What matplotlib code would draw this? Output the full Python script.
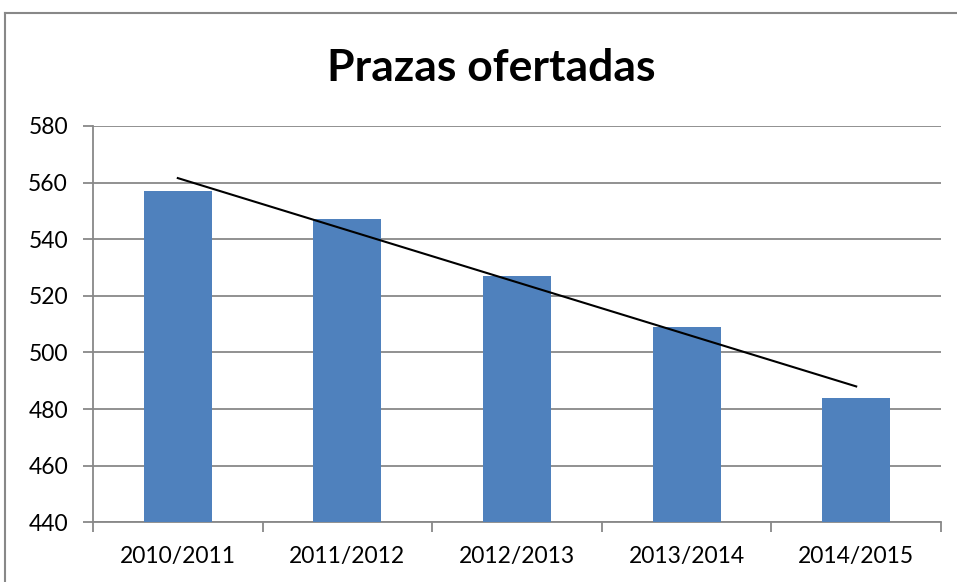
import matplotlib
matplotlib.use("Agg")
import matplotlib.pyplot as plt
import numpy as np
from matplotlib.lines import Line2D

categories = ["2010/2011", "2011/2012", "2012/2013", "2013/2014", "2014/2015"]
values = [557, 547, 527, 509, 484]
yticks = [440, 460, 480, 500, 520, 540, 560, 580]
title = "Prazas ofertadas"

plt.rcParams['font.family'] = ['Lato', 'DejaVu Sans']

fig = plt.figure(figsize=(9.57, 5.82), dpi=100)
ax = fig.add_axes([93/957, 1-522.3/582, (941-93)/957, (522.3-126)/582])

x = np.arange(len(categories))
ax.bar(x, values, width=0.40, color="#4F81BD", zorder=3)

coef = np.polyfit(x, values, 1)
ax.plot(x, np.polyval(coef, x), color="black", lw=1.5, zorder=4)

ax.set_xlim(-0.5, len(categories)-0.5)
ax.set_ylim(440, 580)
ax.set_yticks(yticks)
ax.set_yticklabels([str(v) for v in yticks], fontsize=16.5)
ax.set_xticks(x)
ax.set_xticklabels(categories, fontsize=16.5)
ax.tick_params(axis='x', length=0, pad=17)
ax.set_xticks(np.arange(-0.5, len(categories)), minor=True)
ax.tick_params(axis='x', which='minor', length=7, color="#888888", width=1.3)
ax.tick_params(axis='y', length=7, color="#888888", width=1.3, pad=11)
ax.grid(axis='y', color="#888888", lw=1.3, zorder=0)
for s in ['top', 'right']:
    ax.spines[s].set_visible(False)
for s in ['left', 'bottom']:
    ax.spines[s].set_color("#888888")
    ax.spines[s].set_linewidth(1.3)

fig.text(491/957, 1-68/582, title, fontsize=32, fontweight='bold', ha='center', va='center')

fig.add_artist(Line2D([5/957, 5/957], [0, 1-13/582], transform=fig.transFigure, color="#888888", lw=1.5))
fig.add_artist(Line2D([5/957, 1], [1-13/582, 1-13/582], transform=fig.transFigure, color="#888888", lw=1.5))

fig.savefig("out.png", dpi=100)
